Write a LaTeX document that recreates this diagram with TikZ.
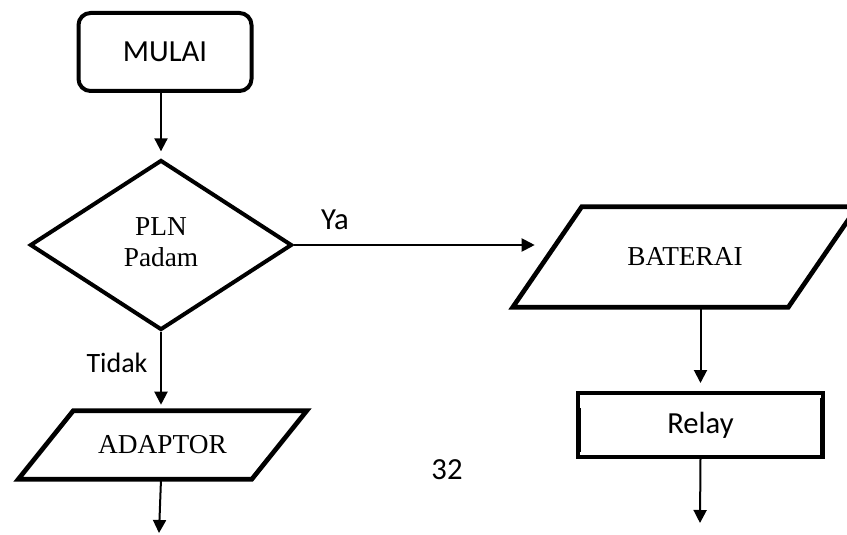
\documentclass[tikz,border=0pt]{standalone}
\usepackage{fontspec}
\setmainfont{Liberation Serif}
\setsansfont{Carlito}
\usetikzlibrary{arrows.meta,positioning,shapes.geometric,calc}

% slanted outline round an io node: #1 node, #2 half of the slant
\newcommand\ioframe[2]{%
  \draw[ioline] ($(#1.south west)+(-#2,0)$) -- ($(#1.south east)+(-#2,0)$)
    -- ($(#1.north east)+(#2,0)$) -- ($(#1.north west)+(#2,0)$) -- cycle;}

\begin{document}
\begin{tikzpicture}[
  x=0.75pt, y=-0.75pt,
  font=\sffamily\fontsize{23pt}{27pt}\selectfont,
  terminal/.style={rectangle, draw, rounded corners=9pt, line width=3pt,
                   minimum width=129.75pt, minimum height=58.5pt},
  decision/.style={diamond, draw, line width=3pt, inner sep=0pt,
                   minimum width=196.5pt, minimum height=127.5pt,
                   font=\rmfamily\fontsize{20.5pt}{23pt}\selectfont},
  io/.style={rectangle, inner sep=0pt,
             font=\rmfamily\fontsize{20.5pt}{23pt}\selectfont},
  ioline/.style={line width=3.5pt},
  process/.style={rectangle, draw, line width=3pt,
                  minimum width=183.75pt, minimum height=48pt},
  arr/.style={-{Triangle[length=9.75pt, width=9.75pt]}, line width=1.5pt},
  lbl/.style={inner sep=0pt},
]
\useasboundingbox (0,0) rectangle (847,535);

\node[terminal] (start) at (165,52) {MULAI};
\node[decision] (dec) at (161,245)
  {\raisebox{-3pt}{\begin{tabular}{@{}c@{}}PLN\\Padam\end{tabular}}};
\node[io, minimum width=206.25pt, minimum height=75pt] (bat) at (685,257) {BATERAI};
\node[io, minimum width=174.75pt, minimum height=51pt] (adp) at (162.5,445) {ADAPTOR};
\ioframe{bat}{34.5}
\ioframe{adp}{27.5}
\node[process] (relay) at (700.5,425) {Relay};
% inner edges of the relay box
\draw[line width=2pt] ($(relay.west)+(4,-17)$) -- ($(relay.west)+(4,27)$);
\draw[line width=2pt] ($(relay.east)+(-4,-27)$) -- ($(relay.east)+(-4,30)$);

\node[lbl] (ya)    at (335,220) {Ya};
\node[lbl, font=\sffamily\fontsize{21pt}{25pt}\selectfont] (tidak) at (117,363) {Tidak};
\node[lbl] (page)  at (447,470) {32};

\coordinate (end1) at (159,533);
\coordinate (end2) at (700,523);

\draw[arr, shorten >=5pt] (dec.north |- start.south) -- (dec.north);
\draw[arr, shorten >=9.4pt] (dec.east) -- (dec.east -| bat.west);
\draw[arr, shorten >=4.5pt] (dec.south) -- (dec.south |- adp.north);
\draw[arr] (dec.south |- adp.south) -- (end1);
\draw[arr, shorten >=6pt] (relay.north |- bat.south) -- (relay.north);
\draw[arr] (relay.south) -- (end2);

\end{tikzpicture}
\end{document}
